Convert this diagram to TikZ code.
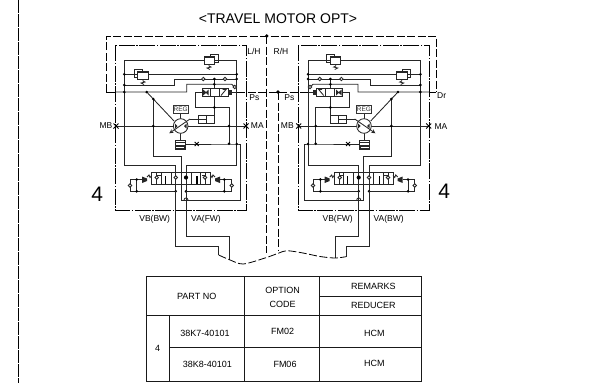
\documentclass[tikz,border=0pt]{standalone}
\usepackage{fontspec}
\setmainfont{Liberation Sans}
\tikzset{
	hyd/.style={line width=0.85pt,color=black!85},
	thick frame/.style={line width=1pt,color=black!90},
	outerdash/.style={line width=0.8pt,dash pattern=on 8pt off 2.5pt},
	innerdash/.style={line width=0.8pt,dash pattern=on 16pt off 1.5pt on 1.5pt off 1.5pt},
	pagedash/.style={line width=1pt,dash pattern=on 13pt off 1pt},
	regbox/.style={draw,line width=0.9pt,color=black!80,fill=white,inner sep=0pt,minimum width=15pt,minimum height=7.6pt,font=\fontsize{6.5}{6.5}\selectfont},
	lab/.style={inner sep=0pt,font=\fontsize{8.5}{9}\selectfont},
	tab/.style={inner sep=0pt,font=\fontsize{9}{9}\selectfont},
}
\newcommand{\jdots}[1]{\foreach \p in {#1} \fill[black] \p circle (1.45);}
\newcommand{\cvals}[1]{\foreach \p in {#1} \draw[hyd,fill=white] \p circle (1.7);}
\newcommand{\xmark}[3]{\draw[line width=0.9pt] (#1-#3,#2-#3) -- (#1+#3,#2+#3) (#1-#3,#2+#3) -- (#1+#3,#2-#3);}
\newcommand{\reliefv}[7]{%
	\draw[hyd] (#6,#3-1) -- (#6,#3-5.5) -- (#7,#3-5.5) -- (#7,#3+2) -- (#5,#3+2);
	\draw[hyd,fill=white] (#1,#2) rectangle (#1+10.5,#2+8);
	\fill[black!85] (#1,#2) rectangle (#1+10.5,#2+1.6);
	\draw[hyd] (#4,#2+8) -- (#4,#2+10) -- (#4+2,#2+11) -- (#4-2,#2+12) -- (#4+1,#2+13.5);
}
\newcommand{\travelckt}[1]{%
	\draw[hyd] (124.3,60) -- (236.7,60);
	\draw[hyd] (124.3,60) -- (124.3,165) -- (175.7,165) -- (175.7,172.3);
	\draw[hyd] (124.3,74.3) -- (236.7,74.3);
	\draw[hyd] (124.3,85) -- (174.3,85) -- (174.3,79) -- (236.7,79);
	\draw[hyd] (236.7,60) -- (236.7,165) -- (186,165) -- (186,172.3);
	\draw[hyd] (115.7,92) -- (186.7,92) -- (186.7,84.3) -- (231.7,84.3) -- (234.7,87);
	\draw[hyd] (146.7,92) -- (174,121);
	\draw[hyd] (153.3,99) -- (153.3,156.7) -- (181,156.7) -- (181,172.3);
	\draw[hyd] (195.7,92) -- (195.7,107.5) -- (229,107.5) -- (229,143.7);
	\draw[hyd] (202,92) -- (195.7,92);
	\draw[hyd] (231.7,92) -- (237,92);
	\draw[hyd] (214.3,79) -- (214.3,88.3) (214.3,96.7) -- (214.3,115);
	\draw[hyd] (116,126) -- (246,126);
	\draw[hyd] (180.7,113) -- (180.7,119);
	\draw[hyd] (190,119) -- (198.3,119);
	\draw[hyd] (180.7,133) -- (180.7,140);
	\draw[hyd] (185,144) -- (236.7,144) -- (240,144) -- (240,200) -- (181,200) -- (181,184);
	\draw[hyd] (175.7,184) -- (175.7,191.3) (186,184) -- (186,191.3);
	\draw[hyd] (142,179.5) -- (130,179.5) -- (130,191.3) -- (175.7,191.3);
	\draw[hyd] (136.7,179.5) -- (136.7,191.3);
	\draw[hyd] (220,179.5) -- (231.7,179.5) -- (231.7,191.3) -- (186,191.3);
	\draw[hyd] (224.3,179.5) -- (224.3,191.3);
	\draw[hyd,fill=white] (184,200) .. controls (184,197.3) and (188,197.3) .. (188,200);
	\reliefv{204}{56}{60}{209}{214.5}{210.5}{218}
	\reliefv{137.7}{71}{75}{143}{137.7}{142}{134.3}
	\draw[hyd,fill=white] (202,88.3) rectangle (228,96.7);
	\draw[hyd] (210.7,88.3) -- (210.7,96.7) (219.5,88.3) -- (219.5,96.7);
	\fill[black!85] (203,89.5) -- (206,92) -- (208.5,89.5) -- (208.5,95.5) -- (206,93) -- (203,95.5) -- cycle;
	\draw[hyd] (221,95.5) -- (226,89.5) -- (222.5,89.5);
	\fill[black!85] (228,89.5) rectangle (231.7,95);
	\xmark{116}{126}{2.5}
	\xmark{246}{126}{2.5}
	\draw[hyd,fill=white] (180.7,126) circle (7.3);
	\fill[black!85] (175,123.5) -- (177.5,126) -- (175,128.5) -- cycle;
	\fill[black!85] (186.5,123.5) -- (184,126) -- (186.5,128.5) -- cycle;
	\draw[hyd,<-,>=stealth] (169.3,133.3) -- (190,119);
	\node[regbox] (reg#1) at (180.7,109.5) {REG};
	\draw[hyd,fill=white] (198.3,115) rectangle (214,123.3);
	\draw[hyd] (206,115) -- (206,123.3) (198.3,119) -- (206,119);
	\draw[hyd,fill=white] (175,140) rectangle (185,149.3);
	\fill[black!85] (175,145) rectangle (185,149.3);
	\draw[white,line width=0.4pt] (176,147) -- (184,147);
	\draw[hyd] (175,142.5) -- (185,142.5);
	\xmark{196.7}{144}{2}
	\draw[hyd,fill=white] (151.7,172.3) rectangle (210.7,184);
	\foreach \x in {161.6,171.5,181.2,191,200.9} \draw[hyd] (\x,172.3) -- (\x,184);
	\draw[hyd] (175.7,172.3) -- (175.7,184) (186,172.3) -- (186,184);
	\draw[hyd] (156.7,172.3) -- (156.7,184) (205,172.3) -- (205,184);
	\draw[hyd] (156.7,175) -- (160.5,175) (205,175) -- (201.5,175);
	\draw[line width=1.1pt] (165.5,176) -- (165.5,184) (197,176) -- (197,184);
	\cvals{(156.7,177.5),(175.7,177.5),(205,177.5),(130,185.5),(231.7,185.5),(203.3,79),(225,79),(234.7,87)}
	\fill[black] (186,177.5) circle (2.1);
	\fill[black!85] (142,176.5) -- (147,178.5) -- (147,181) -- (142,183) -- cycle;
	\fill[black!85] (220,176.5) -- (215,178.5) -- (215,181) -- (220,183) -- cycle;
	\draw[hyd] (147,177) -- (149,175) -- (150,177.5) -- (151.7,175.5);
	\draw[hyd] (215,177) -- (213,175) -- (212,177.5) -- (210.7,175.5);
	\jdots{(124.3,74.3),(236.7,74.3),(124.3,85),(236.7,79),(124.3,92),(146.7,92),(153.3,99),(214.3,79),(214.3,84.3),(214.3,107.5),(153.3,126),(229,126),(229,143.7),(236.7,144),(136.7,179.5),(136.7,191.3),(224.3,179.5),(224.3,191.3),(175.7,191.3),(186,191.3)}
}
\begin{document}
\begin{tikzpicture}[x=1pt,y=-1pt]
	\useasboundingbox (0,0) rectangle (610,383);
	\draw[pagedash] (18.3,0) -- (18.3,383);

	\node[inner sep=0pt,font=\fontsize{14}{16}\selectfont] (title) at (278,19) {<TRAVEL MOTOR OPT>};

	\draw[outerdash] (106,92) -- (106,36) -- (436,36) -- (436,92);
	\draw[outerdash] (266.7,36) -- (266.7,253);
	\draw[outerdash] (278,92) -- (278,250);
	\draw[outerdash] (237,92) -- (307.7,92);
	\draw[line width=0.8pt] (106,92) -- (116,92) (429,92) -- (436,92);
	\fill (266.7,36) circle (1.9);
	\fill (278,92) circle (1.9);

	\draw[innerdash] (115.7,45.3) rectangle (246.7,210.7);
	\draw[innerdash] (298,45.3) rectangle (429,210.7);

	\travelckt{l}
	\begin{scope}[shift={(544.7,0)},xscale=-1]
		\travelckt{r}
	\end{scope}

	\draw[hyd] (175.7,191.3) -- (175.7,246.7) -- (218.7,246.7) -- (218.7,255);
	\draw[hyd] (186,191.3) -- (186,236.7) -- (229,236.7) -- (229,260);
	\draw[hyd] (358.7,191.3) -- (358.7,236.7) -- (335.7,236.7) -- (335.7,258);
	\draw[hyd] (369,191.3) -- (369,246) -- (346,246) -- (346,256.7);

	\draw[outerdash] plot [smooth] coordinates {(218.7,255) (229,259.5) (243,264) (265,258) (279,253) (287,250.7) (303,253) (320,256.5) (335,258) (346,256.7)};

	\node[lab] (lh) at (254,51.7) {L/H};
	\node[lab] (rh) at (281,51.7) {R/H};
	\node[lab] (psl) at (254.3,97.7) {Ps};
	\node[lab] (psr) at (289.3,97.7) {Ps};
	\node[lab] (dr) at (441.7,96) {Dr};
	\node[lab] (mbl) at (106,126) {MB};
	\node[lab] (mal) at (257.3,126) {MA};
	\node[lab] (mbr) at (287.3,126) {MB};
	\node[lab] (mar) at (441,126.5) {MA};
	\node[lab] (vbl) at (154.7,219) {VB(BW)};
	\node[lab] (val) at (206,219) {VA(FW)};
	\node[lab] (vbr) at (337.7,219) {VB(FW)};
	\node[lab] (var) at (388.7,219) {VA(BW)};
	\node[inner sep=0pt,font=\fontsize{21}{22}\selectfont] (numl) at (97.3,194) {4};
	\node[inner sep=0pt,font=\fontsize{21}{22}\selectfont] (numr) at (444.3,191) {4};

	\draw[thick frame] (146,276) rectangle (421,381.7);
	\draw[thick frame] (146,315.7) -- (421,315.7);
	\draw[thick frame] (244.3,276) -- (244.3,381.7);
	\draw[thick frame] (319.3,276) -- (319.3,381.7);
	\draw[thick frame] (319.3,296) -- (421,296);
	\draw[thick frame] (169,315.7) -- (169,381.7);
	\draw[thick frame] (169,347.7) -- (421,347.7);
	\node[tab] (partno) at (196.7,296) {PART NO};
	\node[tab] (optionw) at (282.7,290.7) {OPTION};
	\node[tab] (codew) at (282.7,304) {CODE};
	\node[tab] (remarks) at (373.3,286.7) {REMARKS};
	\node[tab] (reducer) at (373.3,305.7) {REDUCER};
	\node[tab] (itemno) at (157.7,348) {4};
	\node[tab] (parta) at (205,333.3) {38K7-40101};
	\node[tab] (partb) at (207.3,364.3) {38K8-40101};
	\node[tab] (fma) at (282.7,331.7) {FM02};
	\node[tab] (fmb) at (285,364) {FM06};
	\node[tab] (hcma) at (374.3,333.3) {HCM};
	\node[tab] (hcmb) at (374.3,363.3) {HCM};
\end{tikzpicture}
\end{document}
